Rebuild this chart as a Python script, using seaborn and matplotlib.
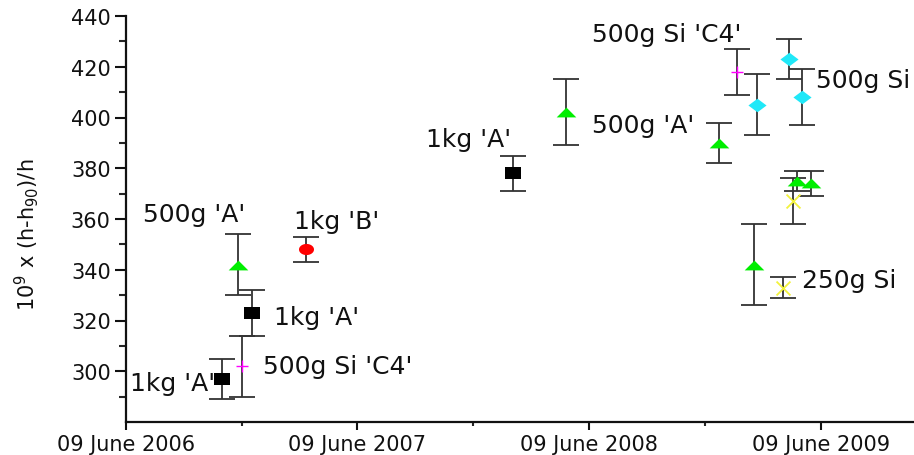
import numpy as np
import pandas as pd
import matplotlib
matplotlib.use("Agg")
import matplotlib.pyplot as plt
import seaborn as sns

# ---------------- data ----------------
kg1_dates = ["2006-11-07", "2006-12-24", "2008-02-09"]
kg1_vals = [297, 323, 378]
kg1_errs = [8, 9, 7]

a500_dates = ["2006-12-02", "2008-05-03", "2008-12-30", "2009-02-23", "2009-05-03", "2009-05-25"]
a500_vals = [342, 402, 390, 342, 375, 374]
a500_errs = [12, 13, 8, 16, 4, 5]

kgB_dates = ["2007-03-20"]
kgB_vals = [348]
kgB_errs = [5]

siC4_dates = ["2006-12-09", "2009-01-28"]
siC4_vals = [302, 418]
siC4_errs = [12, 9]

si500_dates = ["2009-02-28", "2009-04-20", "2009-05-10"]
si500_vals = [405, 423, 408]
si500_errs = [12, 8, 11]

si250_dates = ["2009-04-10", "2009-04-26"]
si250_vals = [333, 367]
si250_errs = [4, 9]

label_texts = ["500g 'A'", "1kg 'B'", "1kg 'A'", "500g Si 'C4'", "1kg 'A'",
               "1kg 'A'", "500g Si 'C4'", "500g 'A'", "500g Si", "250g Si"]
label_x = ["2006-09-25", "2007-05-07", "2007-04-06", "2007-05-09", "2006-08-21",
           "2007-12-01", "2008-10-09", "2008-09-02", "2009-06-02", "2009-07-24"]
label_y = [359.2, 356.4, 318.5, 299.2, 292.5, 388.7, 430.1, 394.3, 412.0, 333.1]

xtick_dates = ["2006-06-09", "2007-06-09", "2008-06-09", "2009-06-09"]
xtick_labels = ["09 June 2006", "09 June 2007", "09 June 2008", "09 June 2009"]
xminor_dates = ["2006-12-09", "2007-12-09", "2008-12-09"]
yticks = [300, 320, 340, 360, 380, 400, 420, 440]
yminor = [290, 310, 330, 350, 370, 390, 410, 430]

# ---------------- style ----------------
sns.set_style("ticks")
plt.rcParams["font.family"] = ["DejaVu Sans"]

fig = plt.figure(figsize=(9.14, 4.56), dpi=100)
ax = fig.add_axes([126 / 914, 33 / 456, 1 - 126 / 914, 406 / 456])

theta = np.linspace(0, 2 * np.pi, 41)
ell = list(zip(1.35 * np.cos(theta), np.sin(theta)))
sq = [(-1.35, -1), (1.35, -1), (1.35, 1), (-1.35, 1), (-1.35, -1)]
tri = [(-1, -0.5), (1, -0.5), (0, 0.5), (-1, -0.5)]
dia = [(0, 0.75), (1, 0), (0, -0.75), (-1, 0), (0, 0.75)]

series = [
    (kg1_dates, kg1_vals, kg1_errs, sq, 117, "#000000", 0),
    (a500_dates, a500_vals, a500_errs, tri, 200, "#00ee00", 0),
    (kgB_dates, kgB_vals, kgB_errs, ell, 117, "#ff0000", 0),
    (siC4_dates, siC4_vals, siC4_errs, "+", 70, "#ff00ff", 1.0),
    (si500_dates, si500_vals, si500_errs, dia, 170, "#20e8f8", 0),
    (si250_dates, si250_vals, si250_errs, "x", 100, "#f2f23c", 1.3),
]

for dates, vals, errs, mk, size, col, lw in series:
    d = pd.to_datetime(dates)
    ax.errorbar(d, vals, yerr=errs, fmt="none", ecolor="#333333",
                elinewidth=1.3, capsize=9.7, capthick=1.3, zorder=2)
    sns.scatterplot(x=d, y=vals, marker=mk, s=size, color=col,
                    edgecolor=col if lw == 0 else None, linewidth=lw,
                    ax=ax, zorder=3, legend=False)

for t, xd, yv in zip(label_texts, label_x, label_y):
    ha = "left" if t == "500g Si" else "center"
    ax.text(pd.Timestamp(xd), yv, t, fontsize=18, ha=ha, va="baseline",
            color="#111111", clip_on=False)

ax.set_xlim(pd.Timestamp("2006-06-09"), pd.Timestamp("2009-11-03"))
ax.set_ylim(280, 440)

ax.set_xticks(pd.to_datetime(xtick_dates))
ax.set_xticklabels(xtick_labels)
ax.set_xticks(pd.to_datetime(xminor_dates), minor=True)
ax.set_yticks(yticks)
ax.set_yticks(yminor, minor=True)

ax.tick_params(axis="both", which="major", labelsize=15, width=1.5,
               direction="out", color="#111111", labelcolor="#111111")
ax.tick_params(axis="x", which="major", length=5.5, pad=3)
ax.tick_params(axis="x", which="minor", length=3, width=1.5)
ax.tick_params(axis="y", which="major", length=8, pad=3)
ax.tick_params(axis="y", which="minor", length=5, width=1.5)

for s in ["top", "right"]:
    ax.spines[s].set_visible(False)
for s in ["left", "bottom"]:
    ax.spines[s].set_linewidth(1.6)
    ax.spines[s].set_color("#111111")

ax.set_xlabel("")
ax.set_ylabel(r"10$^{9}$ x (h-h$_{90}$)/h", fontsize=15, color="#111111")
ax.yaxis.set_label_coords(-0.108, 0.463)

fig.savefig("out.png", dpi=100)
